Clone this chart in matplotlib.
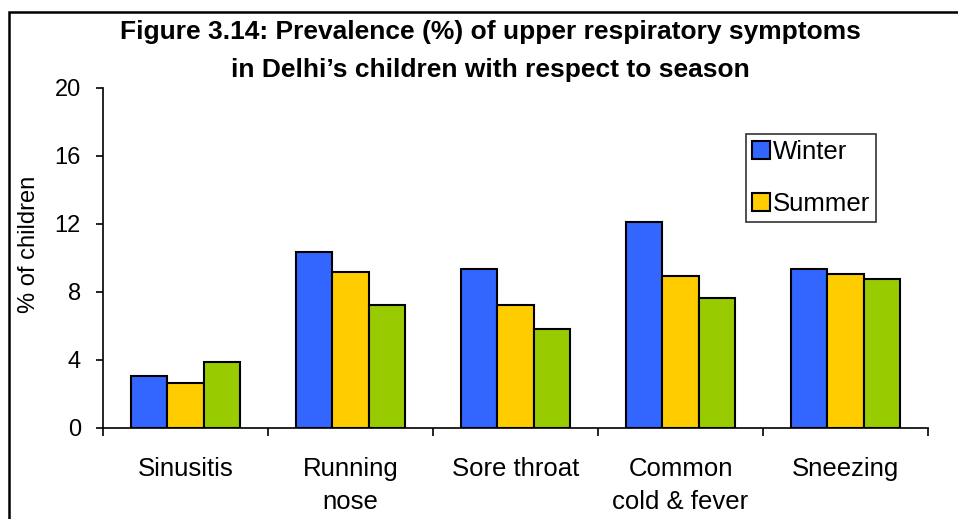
import numpy as np
import matplotlib.pyplot as plt
from matplotlib.patches import Rectangle

plt.rcParams['font.family'] = ['Liberation Sans', 'DejaVu Sans']

# data
categories = ['Sinusitis', 'Running\nnose', 'Sore throat', 'Common\ncold & fever', 'Sneezing']
winter = [3.05, 10.35, 9.35, 12.1, 9.35]
summer = [2.65, 9.2, 7.25, 8.95, 9.05]
monsoon = [3.9, 7.25, 5.85, 7.65, 8.75]
yticks = [0, 4, 8, 12, 16, 20]

fig = plt.figure(figsize=(9.58, 5.19), dpi=100)
ax = fig.add_axes([103/958, 1-428/519, 825/958, 340/519])

x = np.arange(len(categories))
w = 0.22
ax.bar(x - w, winter, w, color='#3366FF', edgecolor='black', linewidth=1.5, label='Winter')
ax.bar(x, summer, w, color='#FFCC00', edgecolor='black', linewidth=1.5, label='Summer')
ax.bar(x + w, monsoon, w, color='#99CC00', edgecolor='black', linewidth=1.5, label='_nolegend_')

ax.set_xlim(-0.5, len(categories) - 0.5)
ax.set_ylim(0, 20)
ax.set_yticks(yticks)
ax.tick_params(axis='y', labelsize=17, length=5, width=1.2, pad=11)

# tick marks between categories, labels at centres
ax.set_xticks(x)
ax.set_xticklabels(categories, fontsize=18.5)
ax.tick_params(axis='x', which='major', length=0, pad=21)
ax.set_xticks(np.arange(-0.5, len(categories)), minor=True)
ax.tick_params(axis='x', which='minor', length=6, width=1.2)
for lbl in ax.get_xticklabels():
    lbl.set_linespacing(1.45)
    lbl.set_verticalalignment('top')

for s in ['top', 'right']:
    ax.spines[s].set_visible(False)
ax.spines['left'].set_linewidth(1.2)
ax.spines['bottom'].set_linewidth(1.2)

ax.set_ylabel('% of children', fontsize=17)
ax.yaxis.set_label_coords(-0.076, 0.54)

leg = ax.legend(loc='upper left', bbox_to_anchor=(746/958, 1-134/519), bbox_transform=fig.transFigure,
                fontsize=18.5, frameon=True, fancybox=False, edgecolor='black', labelspacing=1.1,
                handlelength=0.72, handleheight=0.72, handletextpad=0.12, borderpad=0.22, borderaxespad=0)
leg.get_frame().set_linewidth(1.2)

fig.text(490/958, 1-32/519, 'Figure 3.14: Prevalence (%) of upper respiratory symptoms',
         ha='center', va='center', fontsize=19, fontweight='bold')
fig.text(490/958, 1-70/519, 'in Delhi\u2019s children with respect to season',
         ha='center', va='center', fontsize=19, fontweight='bold')

# outer chart border (cut off at right and bottom)
fig.add_artist(Rectangle((9/958, -0.1), 1.2, 1.1 - 12/519, transform=fig.transFigure,
                         fill=False, edgecolor='black', linewidth=1.8))

fig.savefig('out.png', dpi=100)
